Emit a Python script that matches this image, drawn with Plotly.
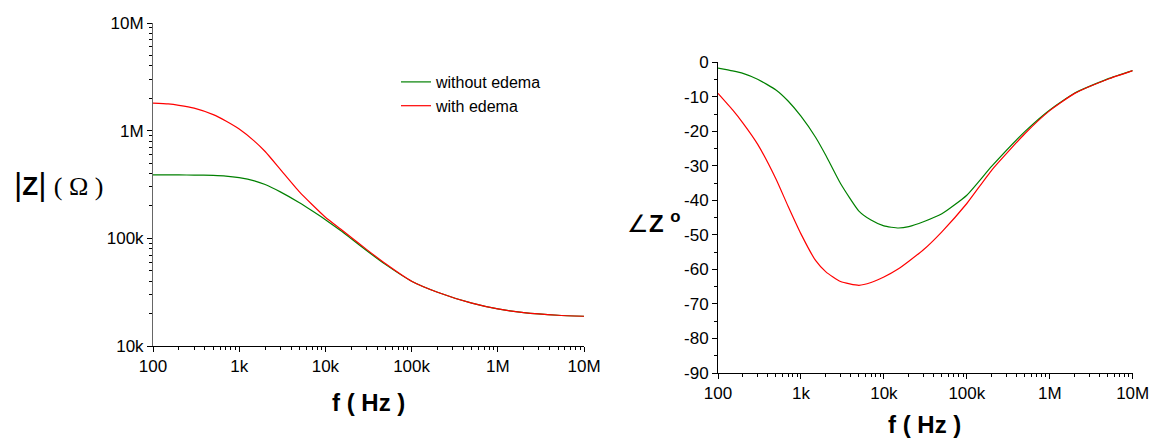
import plotly.graph_objects as go

# ---- data ----
freq = [100, 150, 200, 300, 500, 700, 1e3, 1.5e3, 2e3, 3e3, 5e3, 7e3, 1e4, 1.5e4, 2e4, 3e4, 5e4,
        1e5, 2e5, 5e5, 1e6, 2e6, 5e6, 1e7]

mag_without = [389e3, 389e3, 388e3, 387e3, 384e3, 379e3, 366e3, 342e3, 316e3, 270e3, 214e3, 180e3,
               149e3, 118e3, 99e3, 77e3, 57e3, 40e3, 31.6e3, 25e3, 22.1e3, 20.4e3, 19.3e3, 18.9e3]
mag_with    = [1.80e6, 1.77e6, 1.72e6, 1.62e6, 1.41e6, 1.23e6, 1.035e6, 800e3, 640e3, 437e3, 270e3,
               206e3, 157e3, 122e3, 102e3, 79e3, 58e3, 40e3, 31.6e3, 25e3, 22.1e3, 20.4e3, 19.3e3, 18.9e3]

ph_without = [-1.7, -2.5, -3.2, -4.9, -8.0, -11.2, -15.6, -21.7, -27.0, -35.1, -43.1, -45.7, -47.4,
              -48.0, -47.6, -46.2, -43.9, -38.5, -30.1, -20.1, -13.8, -8.9, -4.8, -2.4]
ph_with    = [-9.0, -13.8, -17.6, -23.7, -33.8, -41.7, -49.7, -57.4, -60.7, -63.5, -64.6, -63.8, -62.2,
              -59.8, -57.6, -54.3, -49.1, -40.9, -31.2, -20.7, -14.0, -9.0, -4.9, -2.4]

series_names = ["without edema", "with edema"]
series_colors = ["#008000", "#ff0000"]

x_tickvals = [1e2, 1e3, 1e4, 1e5, 1e6, 1e7]
x_ticktext = ["100", "1k", "10k", "100k", "1M", "10M"]
ymag_tickvals = [1e4, 1e5, 1e6, 1e7]
ymag_ticktext = ["10k", "100k", "1M", "10M"]
yph_tickvals = [0, -10, -20, -30, -40, -50, -60, -70, -80, -90]
yph_ticktext = ["0", "-10", "-20", "-30", "-40", "-50", "-60", "-70", "-80", "-90"]

FONT = "Liberation Sans, Arial, sans-serif"
SERIF = "Liberation Serif, Times New Roman, serif"

# page has an 8px body margin; figure sized to fill the rest of the window
OFF = 8
W, H = 1158 - OFF, 438 - OFF
def fx(px):
    return (px - OFF) / W
def fy(py):
    return 1 - (py - OFF) / H

fig = go.Figure()
for name, col, ys in zip(series_names, series_colors, [mag_without, mag_with]):
    fig.add_trace(go.Scatter(x=freq, y=ys, mode="lines", name=name,
                             line=dict(color=col, width=1.2, shape="spline", smoothing=0.5),
                             xaxis="x", yaxis="y"))
for name, col, ys in zip(series_names, series_colors, [ph_without, ph_with]):
    fig.add_trace(go.Scatter(x=freq, y=ys, mode="lines", name=name, showlegend=False,
                             line=dict(color=col, width=1.2, shape="spline", smoothing=0.5),
                             xaxis="x2", yaxis="y2"))

axis_common = dict(showgrid=False, zeroline=False, showline=True, linecolor="black",
                   linewidth=1, ticks="outside", ticklen=5, tickcolor="black", automargin=False,
                   tickfont=dict(family=FONT, size=17, color="black"))
minor_log = dict(ticks="outside", ticklen=3, tickcolor="black", dtick="D1", showgrid=False)

fig.update_layout(
    width=W, height=H,
    margin=dict(l=0, r=0, t=0, b=0),
    paper_bgcolor="white", plot_bgcolor="white",
    font=dict(family=FONT, color="black"),
    xaxis=dict(domain=[fx(153), fx(584)], type="log", range=[2, 7],
               tickvals=x_tickvals, ticktext=x_ticktext, anchor="y",
               minor=minor_log, **axis_common),
    yaxis=dict(domain=[fy(346), fy(23)], type="log", range=[4, 7],
               tickvals=ymag_tickvals, ticktext=ymag_ticktext, anchor="x",
               minor=minor_log, **{**axis_common, "linecolor": "#666666"}),
    xaxis2=dict(domain=[fx(718), fx(1132.7)], type="log", range=[2, 7],
                tickvals=x_tickvals, ticktext=x_ticktext, anchor="y2",
                minor=minor_log, **axis_common),
    yaxis2=dict(domain=[fy(373), fy(62.3)], range=[-90, 0],
                tickvals=yph_tickvals, ticktext=yph_ticktext, anchor="x2",
                minor=dict(ticks="outside", ticklen=3, tickcolor="black", dtick=5, showgrid=False),
                **axis_common),
    legend=dict(x=fx(396), y=fy(65), xanchor="left", yanchor="top",
                bgcolor="rgba(0,0,0,0)", font=dict(family=FONT, size=16, color="black"),
                tracegroupgap=0, itemwidth=30),
    showlegend=True,
)

annos = [
    (368, 402, "<b>f ( Hz )</b>", 24),
    (924, 424, "<b>f ( Hz )</b>", 24),
    (58, 184,
     "<span style='font-size:32px'>|</span><b>Z</b><span style='font-size:32px'>|</span>"
     " <span style='font-family:" + SERIF + "'>( Ω )</span>", 26),
    (654, 222, "∠<b>Z <sup>o</sup></b>", 24),
]
for x, y, text, size in annos:
    fig.add_annotation(xref="paper", yref="paper", showarrow=False,
                       xanchor="center", yanchor="middle",
                       font=dict(family=FONT, color="black", size=size),
                       x=fx(x), y=fy(y), text=text)

fig.write_html("out.html")
